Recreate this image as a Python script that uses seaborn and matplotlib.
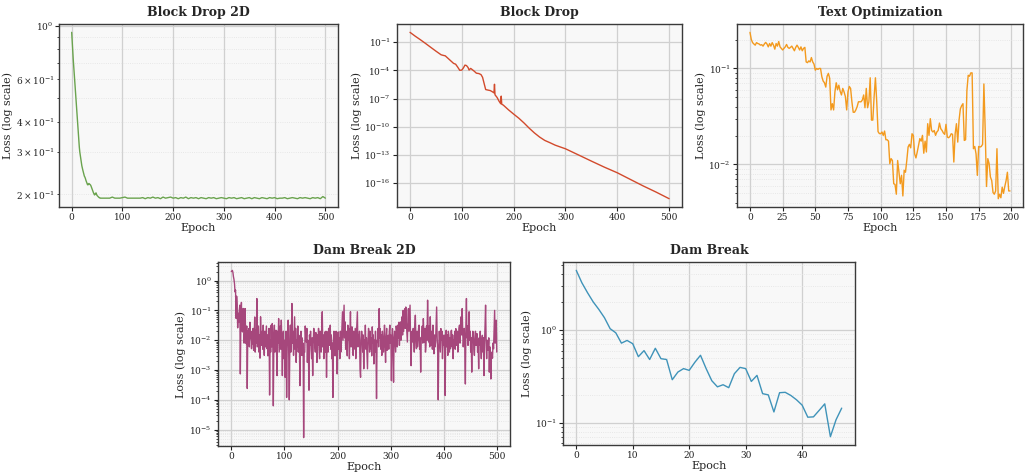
import matplotlib
matplotlib.use('Agg')
import matplotlib.pyplot as plt
import seaborn as sns

# Configure visualisations
sns.set_style('whitegrid', {
    'axes.facecolor': '#f8f8f8',
    'axes.edgecolor': '#3a3a3a',
    'grid.color': '#d2d2d2',
    'xtick.bottom': True,
    'ytick.left': True,
})
plt.rcParams['font.family'] = ['DejaVu Serif']
plt.rcParams['axes.linewidth'] = 1.0
plt.rcParams['xtick.major.size'] = 3.0
plt.rcParams['ytick.major.size'] = 3.0
plt.rcParams['ytick.minor.size'] = 1.8
plt.rcParams['xtick.color'] = '#222222'
plt.rcParams['ytick.color'] = '#222222'

# ---- Block Drop 2D ----
bd2_epochs = list(range(0, 61)) + list(range(65, 501, 5))
bd2_loss = [
    0.94, 0.86, 0.79, 0.73, 0.68, 0.63, 0.59, 0.55, 0.51, 0.47,
    0.44, 0.41, 0.38, 0.355, 0.335, 0.315, 0.30, 0.29, 0.28, 0.27,
    0.263, 0.257, 0.252, 0.247, 0.242, 0.238, 0.236, 0.233, 0.229, 0.226,
    0.223, 0.220, 0.219, 0.221, 0.222, 0.221, 0.220, 0.219, 0.217, 0.214,
    0.211, 0.208, 0.205, 0.203, 0.201, 0.199, 0.200, 0.202, 0.203, 0.200,
    0.198, 0.197, 0.196, 0.195, 0.194, 0.194, 0.193, 0.193, 0.193, 0.193,
    0.193,
    0.193, 0.193, 0.193, 0.195, 0.193, 0.193, 0.193, 0.194, 0.195, 0.193,
    0.193, 0.193, 0.193, 0.193, 0.193, 0.194, 0.192, 0.194, 0.193, 0.195,
    0.193, 0.194, 0.192, 0.195, 0.193, 0.194, 0.195, 0.193, 0.194, 0.192,
    0.194, 0.193, 0.195, 0.192, 0.194, 0.193, 0.194, 0.192, 0.194, 0.193,
    0.192, 0.194, 0.193, 0.194, 0.192, 0.193, 0.194, 0.193, 0.192, 0.194,
    0.193, 0.194, 0.192, 0.193, 0.194, 0.192, 0.193, 0.194, 0.192, 0.194,
    0.193, 0.192, 0.194, 0.193, 0.192, 0.194, 0.193, 0.194, 0.192, 0.193,
    0.193, 0.194, 0.192, 0.193, 0.194, 0.193, 0.192, 0.194, 0.193,
    0.194, 0.193, 0.192, 0.194, 0.193, 0.194, 0.192, 0.196, 0.193,
]

# ---- Block Drop ----
bd_epochs = [0, 10, 20, 30, 40, 50, 60, 65, 68, 72, 78, 84, 88, 92, 96,
             100, 103, 106, 109, 112, 114, 117, 120, 124, 128, 133, 137,
             140, 143, 146, 150, 155, 159, 162, 163, 164, 168, 172, 175,
             176, 177, 180, 190, 200, 210, 220, 230, 240, 250, 260, 270,
             280, 290, 300, 325, 350, 375, 400, 425, 450, 475, 500]
bd_loss = [1.1, 0.43, 0.18, 0.072, 0.028, 0.011, 4.5e-3, 3.8e-3, 3.5e-3,
           2.2e-3, 1.1e-3, 5.5e-4, 4.5e-4, 2.2e-4, 1.0e-4,
           1.07e-4, 1.8e-4, 3.6e-4, 3.2e-4, 2.0e-4, 1.07e-4, 1.6e-4,
           1.2e-4, 8e-5, 5e-5, 4.5e-5, 3.5e-5,
           1.8e-5, 4e-6, 9e-7, 8e-7, 7e-7, 5.2e-7, 4e-7, 3.3e-6, 2.5e-7,
           1.3e-7, 5e-8, 2.8e-8,
           1.8e-7, 2.5e-8, 2e-8, 6.3e-9, 2.2e-9, 8e-10, 2.5e-10, 7e-11,
           2.2e-11, 8e-12, 3.5e-12, 2e-12,
           1.1e-12, 7e-13, 4.5e-13, 1e-13, 2.2e-14, 5e-15, 1.26e-15,
           2.5e-16, 5e-17, 1.1e-17, 2.2e-18]

# ---- Text Optimization ----
txt_epochs = list(range(0, 200))
txt_loss = [
    0.238, 0.201, 0.186, 0.180, 0.175, 0.186, 0.182, 0.180, 0.175, 0.177,
    0.171, 0.180, 0.187, 0.180, 0.168, 0.182, 0.171, 0.186, 0.175, 0.159,
    0.182, 0.171, 0.191, 0.168, 0.162, 0.156, 0.162, 0.168, 0.178, 0.166,
    0.162, 0.166, 0.171, 0.162, 0.153, 0.166, 0.175, 0.166, 0.156, 0.168,
    0.153, 0.162, 0.166, 0.117, 0.115, 0.120, 0.117, 0.130, 0.117, 0.111,
    0.096, 0.100, 0.098, 0.100, 0.100, 0.082, 0.074, 0.071, 0.064, 0.083,
    0.089, 0.079, 0.037, 0.043, 0.037, 0.057, 0.071, 0.060, 0.067, 0.058,
    0.053, 0.062, 0.057, 0.051, 0.037, 0.057, 0.065, 0.062, 0.045, 0.035,
    0.035, 0.037, 0.040, 0.045, 0.045, 0.045, 0.047, 0.053, 0.039, 0.062,
    0.039, 0.045, 0.080, 0.029, 0.029, 0.051, 0.080, 0.045, 0.022, 0.021,
    0.0209, 0.0218, 0.0201, 0.0223, 0.0181, 0.0181, 0.0175, 0.0102, 0.0115, 0.0110,
    0.0063, 0.0062, 0.0049, 0.0110, 0.0083, 0.0063, 0.0077, 0.0047, 0.0087, 0.0083,
    0.0110, 0.0152, 0.0162, 0.0149, 0.0209, 0.0201, 0.0129, 0.0117, 0.0135, 0.0158,
    0.0186, 0.0175, 0.0201, 0.0131, 0.0175, 0.0135, 0.0266, 0.0201, 0.0300, 0.0226,
    0.0218, 0.0226, 0.0201, 0.0218, 0.0226, 0.0270, 0.0236, 0.0226, 0.0213, 0.0206,
    0.0262, 0.0193, 0.0190, 0.0196, 0.0209, 0.0206, 0.0106, 0.0209, 0.0266, 0.0171,
    0.0290, 0.0380, 0.0410, 0.0430, 0.0178, 0.0181, 0.0590, 0.0850, 0.0830, 0.0900,
    0.0900, 0.0146, 0.0154, 0.0129, 0.0077, 0.0154, 0.0152, 0.0154, 0.0162, 0.0690,
    0.0230, 0.0059, 0.0115, 0.0102, 0.0074, 0.0068, 0.0051, 0.0049, 0.0053, 0.0146,
    0.0044, 0.0049, 0.0045, 0.0058, 0.0050, 0.0059, 0.0068, 0.0083, 0.0053, 0.0053,
]

# ---- Dam Break 2D (one value per epoch, 20 per row) ----
dam2d_epochs = list(range(0, 500))
dam2d_loss = [
    2.0, 2.1, 2.2, 1.9, 1.36, 1.1, 0.8, 0.42, 0.48, 0.054, 0.3, 0.15, 0.026, 0.08, 0.04, 0.1, 0.15, 7.4e-4, 0.05, 0.185,
    0.03, 0.019, 0.115, 0.115, 0.008, 0.019, 0.115, 0.012, 0.0076, 0.03, 2.4e-4, 0.02, 0.0166, 0.0245, 0.006, 0.04, 0.0113, 0.02, 0.0052, 0.015,
    0.0076, 0.025, 0.0046, 0.012, 0.06, 0.004, 0.0216, 0.008, 0.25, 0.006, 0.0128, 0.03, 0.004, 0.015, 0.0025, 0.061, 0.01, 0.0067, 0.02, 0.005,
    0.032, 0.008, 0.0031, 0.02, 0.006, 0.0128, 0.03, 0.0052, 0.015, 0.003, 0.0059, 0.025, 1.45e-4, 0.01, 0.004, 0.032, 0.006, 0.036, 0.009, 6.3e-5,
    0.012, 0.032, 0.004, 0.015, 0.0216, 0.005, 6.5e-4, 0.02, 0.008, 0.053, 0.004, 0.0113, 0.03, 0.005, 0.047, 0.01, 6.5e-4, 0.012, 0.02, 0.0024,
    0.01, 5.7e-4, 0.008, 0.02, 1.2e-4, 0.006, 0.015, 0.047, 0.003, 1e-4, 0.006, 0.032, 0.004, 0.02, 0.17, 0.008, 0.02, 0.0031, 0.012, 0.061,
    0.005, 0.025, 0.0018, 0.01, 0.0059, 0.03, 0.004, 0.0146, 0.008, 3e-4, 0.006, 0.02, 0.0031, 0.012, 0.0031, 0.008, 5.4e-6, 0.004, 0.004, 0.03,
    0.012, 0.0087, 0.025, 0.0018, 0.01, 0.003, 2.1e-4, 0.015, 0.0067, 0.02, 0.005, 0.0024, 0.012, 6.5e-4, 0.008, 0.025, 0.0146, 0.006, 0.004, 0.018,
    0.008, 0.0018, 0.015, 0.0067, 0.025, 0.005, 0.0024, 0.02, 0.0113, 0.004, 0.03, 0.09, 0.006, 0.015, 0.0024, 0.01, 0.019, 0.004, 0.02, 5.7e-4,
    0.01, 0.019, 0.004, 0.025, 0.0067, 0.012, 0.032, 0.005, 0.015, 0.0024, 0.008, 1.2e-4, 0.01, 0.02, 0.0113, 0.003, 0.0052, 0.02, 0.006, 7.4e-4,
    0.008, 0.019, 0.005, 0.012, 0.0024, 0.02, 0.004, 0.0087, 0.03, 0.09, 0.01, 0.04, 0.15, 0.012, 0.041, 0.005, 0.02, 0.0087, 0.003, 0.032,
    0.01, 0.025, 0.0024, 0.015, 0.09, 0.006, 0.012, 0.028, 0.006, 0.0031, 0.02, 0.005, 0.0113, 0.025, 0.0024, 0.012, 0.03, 0.09, 0.006, 0.015,
    0.0087, 0.02, 0.0011, 5.7e-4, 0.01, 0.02, 0.0128, 0.004, 0.015, 0.0011, 0.01, 0.006, 0.032, 0.005, 0.012, 0.004, 0.0011, 0.01, 0.025, 0.0146,
    0.004, 0.02, 0.0052, 0.012, 0.003, 0.028, 0.008, 0.015, 0.0016, 0.01, 0.004, 0.02, 0.006, 1.1e-4, 0.01, 0.0087, 0.025, 0.006, 0.115, 0.012,
    0.0245, 0.005, 0.015, 0.0031, 0.02, 0.0113, 0.004, 0.01, 0.032, 0.006, 0.0018, 0.012, 0.025, 0.0046, 0.01, 0.0146, 0.005, 0.02, 0.032, 0.008,
    0.015, 4.4e-4, 0.01, 0.0245, 0.006, 3.9e-4, 0.012, 0.02, 0.0087, 0.004, 0.03, 0.019, 0.006, 0.032, 0.012, 0.04, 0.0067, 0.02, 0.041, 0.01,
    0.03, 0.061, 0.015, 0.10, 0.02, 0.05, 0.115, 0.025, 0.13, 0.04, 0.02, 0.0087, 0.05, 0.115, 0.02, 0.06, 0.15, 0.01, 0.0014, 0.012,
    0.02, 0.0087, 0.025, 0.0113, 0.004, 0.03, 0.069, 0.01, 0.0052, 0.02, 0.006, 0.0099, 0.025, 0.032, 0.005, 0.012, 8.5e-4, 0.01, 0.0146, 0.03,
    0.008, 0.053, 0.015, 0.0087, 0.025, 0.004, 0.0067, 0.03, 0.01, 0.22, 0.02, 0.0087, 0.03, 0.006, 0.061, 0.012, 0.0067, 0.02, 0.005, 0.032,
    0.012, 0.0035, 0.015, 0.006, 0.0087, 0.03, 0.13, 0.012, 0.004, 1e-4, 0.006, 0.02, 0.0087, 0.004, 0.0245, 0.01, 0.02, 0.0024, 0.012, 0.0067,
    0.015, 0.005, 1.4e-4, 0.01, 0.0216, 0.006, 0.015, 0.0031, 0.02, 0.0146, 0.004, 0.012, 0.0052, 0.02, 0.0216, 0.006, 0.015, 0.0024, 0.01, 0.0087,
    0.02, 0.005, 0.0245, 0.01, 0.0067, 0.02, 0.004, 0.0113, 0.025, 0.032, 0.008, 0.03, 0.061, 0.015, 0.115, 0.02, 0.006, 0.0113, 0.025, 0.005,
    3.4e-4, 0.03, 0.25, 0.012, 0.03, 0.0067, 0.02, 0.09, 0.01, 0.02, 0.004, 0.012, 8.5e-4, 0.01, 0.02, 0.0146, 0.005, 0.0031, 0.012, 0.02,
    0.0067, 0.015, 0.0166, 0.004, 0.01, 0.0011, 0.012, 0.0067, 0.02, 0.005, 0.0024, 0.01, 0.0146, 0.004, 0.012, 6.5e-4, 0.008, 0.03, 0.15, 0.01,
    0.0024, 0.01, 0.006, 0.0046, 0.012, 8.5e-4, 0.006, 0.003, 5e-4, 0.003, 0.004, 0.0025, 0.008, 0.0052, 0.02, 0.10, 0.008, 0.0146, 0.047, 0.004,
]

# ---- Dam Break ----
dam_epochs = list(range(0, 48))
dam_loss = [
    4.37, 3.21, 2.51, 2.0, 1.66, 1.35, 1.03, 0.93, 0.72, 0.77,
    0.71, 0.515, 0.598, 0.48, 0.634, 0.49, 0.48, 0.291, 0.352, 0.383,
    0.367, 0.448, 0.533, 0.383, 0.284, 0.244, 0.257, 0.239, 0.338, 0.395,
    0.383, 0.279, 0.324, 0.206, 0.20, 0.131, 0.211, 0.213, 0.197, 0.177,
    0.155, 0.115, 0.116, 0.136, 0.160, 0.071, 0.108, 0.144,
]

panels = [
    ('Block Drop 2D', bd2_epochs, bd2_loss, '#6aa34e', [0.0575, 0.5614, 0.272, 0.3877], 100),
    ('Block Drop', bd_epochs, bd_loss, '#d24a2c', [0.387, 0.5614, 0.2778, 0.3877], 100),
    ('Text Optimization', txt_epochs, txt_loss, '#f39a1e', [0.7183, 0.5614, 0.2788, 0.3877], 25),
    ('Dam Break 2D', dam2d_epochs, dam2d_loss, '#a6477c', [0.2125, 0.0551, 0.2846, 0.3898], 100),
    ('Dam Break', dam_epochs, dam_loss, '#3f93b9', [0.5487, 0.0572, 0.2846, 0.3877], 10),
]

fig = plt.figure(figsize=(10.26, 4.72), dpi=100)

for title, x, y, color, rect, step in panels:
    ax = fig.add_axes(rect)
    sns.lineplot(x=x, y=y, ax=ax, color=color, linewidth=1.0)
    ax.set_yscale('log')
    ax.xaxis.set_major_locator(plt.MultipleLocator(step))
    ax.grid(True, which='major', color='#d0d0d0', linewidth=0.9)
    ax.grid(True, which='minor', axis='y', color='#e2e2e2', linewidth=0.6, linestyle=':')
    ax.set_title(title, fontsize=9, fontweight='bold', pad=6)
    ax.set_xlabel('Epoch', fontsize=8, labelpad=0.5)
    ax.set_ylabel('Loss (log scale)', fontsize=8, labelpad=2)
    ax.tick_params(axis='both', which='both', labelsize=6.5, pad=1.5)
    for s in ax.spines.values():
        s.set_color('#3a3a3a')

fig.savefig('out.png', dpi=100)
